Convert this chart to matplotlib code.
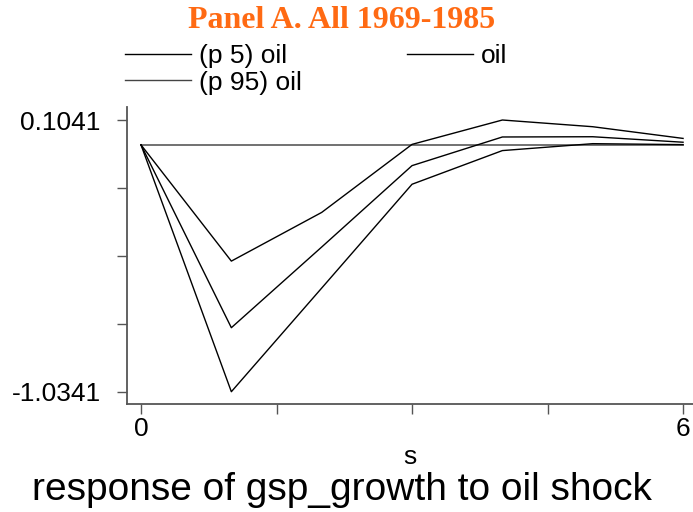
import numpy as np
import matplotlib
matplotlib.use('Agg')
import matplotlib.pyplot as plt

# impulse response, step s = 0..6
steps = [0, 1, 2, 3, 4, 5, 6]
irf_oil = [0.0, -0.766, -0.428, -0.087, 0.033, 0.034, 0.011]
irf_p5 = [0.0, -1.0341, -0.600, -0.165, -0.024, 0.005, 0.001]
irf_p95 = [0.0, -0.487, -0.283, 0.002, 0.1041, 0.076, 0.027]

y_ticks = [-1.0341, -0.74955, -0.4650, -0.18045, 0.1041]
y_labels = ['-1.0341', '', '', '', '0.1041']
x_ticks = [0, 1.5, 3, 4.5, 6]
x_labels = ['0', '', '', '', '6']

plt.rcParams['font.family'] = ['Liberation Sans', 'DejaVu Sans']

fig = plt.figure(figsize=(6.93, 5.12), dpi=100)
ax = fig.add_axes([127 / 693, 1 - 404 / 512, 566 / 693, 297 / 512])

# zero reference line over the data range
ax.plot([steps[0], steps[-1]], [0, 0], color='#666666', linewidth=1.3, zorder=1)

l5, = ax.plot(steps, irf_p5, color='black', linewidth=1.0, label='(p 5) oil')
lo, = ax.plot(steps, irf_oil, color='black', linewidth=1.0, label='oil')
l95, = ax.plot(steps, irf_p95, color='black', linewidth=1.0, label='(p 95) oil')

ax.set_xlim(-0.155, 6.11)
ax.set_ylim(-1.0856, 0.1586)

ax.set_xticks(x_ticks)
ax.set_xticklabels(x_labels, fontsize=19)
ax.set_yticks(y_ticks)
ax.set_yticklabels(y_labels, fontsize=19)
ax.tick_params(axis='both', direction='out', length=7, width=1, color='#555555')
ax.tick_params(axis='x', pad=2.5)
ax.tick_params(axis='y', pad=12)

for side in ['top', 'right']:
    ax.spines[side].set_visible(False)
for side in ['left', 'bottom']:
    ax.spines[side].set_color('#555555')
    ax.spines[side].set_linewidth(1.3)

ax.set_xlabel('s', fontsize=19, labelpad=3)

fig.text(342 / 693, 1 - 21 / 512, 'Panel A. All 1969-1985', ha='center', va='center',
         family=['Liberation Serif'], fontweight='bold', fontsize=23, color='#FF6A13')

fig.text(342 / 693, 1 - 500 / 512, 'response of gsp_growth to oil shock', ha='center',
         va='baseline', fontsize=28)

leg = fig.legend([l5, l95, lo], ['(p 5) oil', '(p 95) oil', 'oil'], ncol=2, frameon=False,
                 loc='upper left', bbox_to_anchor=(125 / 693, 1 - 44 / 512), fontsize=19,
                 handlelength=2.5, handletextpad=0.3, columnspacing=4.0, labelspacing=0.1,
                 borderaxespad=0, borderpad=0)
leg.legend_handles[1].set_color('#444444')

fig.savefig('out.png', dpi=100)
